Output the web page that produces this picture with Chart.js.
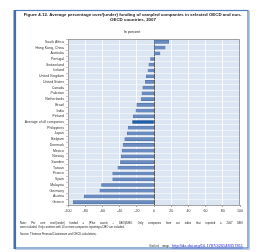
<!DOCTYPE html>
<html>
<head>
<meta charset="utf-8">
<script src="https://cdn.jsdelivr.net/npm/chart.js@4.4.1/dist/chart.umd.min.js"></script>
<style>
  html, body { margin:0; padding:0; background:#fff; }
  canvas { display:block; }
</style>
</head>
<body>
<canvas id="chart" width="256" height="252"></canvas>
<script>
// data (per cent over/(under) funded, 2007)
const categories = ['South Africa','Hong Kong, China','Australia','Portugal','Switzerland','Ireland',
  'United Kingdom','United States','Canada','Pakistan','Netherlands','Brazil','India','Finland',
  'Average of all companies','Philippines','Japan','Belgium','Denmark','Mexico','Norway','Sweden',
  'Taiwan','France','Spain','Malaysia','Germany','Austria','Greece'];
const overUnder = [17, 13, 7, -4, -6, -7, -9, -10, -13, -14, -15, -20, -21, -24,
  -25, -30, -31, -34, -36, -37, -38, -39, -42, -48, -48, -61, -63, -81, -94];
const xTicks = [-100, -80, -60, -40, -20, 0, 20, 40, 60, 80, 100];

const titleLines = ['Figure 4.12. Average percentage over/(under) funding of sampled companies in selected OECD and non-',
  'OECD countries, 2007'];
const unitText = 'In percent';
const noteLines = ['Note: Per cent over/(under) funded = (Plan assets \u2013 DBO)/DBO. Only companies from our index that reported a 2007 DBO',
  'were included. Only countries with 10 or more companies reporting a DBO are included.'];
const sourceText = 'Source: Thomson Financial Datastream and OECD calculations.';
const statLink = 'http://dx.doi.org/10.1787/426548357811';

const FONT = "'Liberation Sans', Arial, sans-serif";
const barColors = categories.map(c => c.startsWith('Average') ? '#1f5ea8' : '#6a8bc0');

// draws a line of text stretched to a given width (justified)
function justify(ctx, text, x, y, width){
  const words = text.split(' ');
  const w = words.reduce((s, t) => s + ctx.measureText(t).width, 0);
  const gap = (width - w) / (words.length - 1);
  let cx = x;
  words.forEach(t => { ctx.fillText(t, cx, y); cx += ctx.measureText(t).width + gap; });
}

const decor = {
  id: 'decor',
  beforeDraw(chart){
    const {ctx, chartArea:a} = chart;
    ctx.save();
    ctx.fillStyle = '#dce5f2';
    ctx.fillRect(a.left, a.top, a.right - a.left, a.bottom - a.top);
    ctx.restore();
  },
  afterDraw(chart){
    const {ctx, chartArea:a} = chart;
    ctx.save();
    // plot frame top/right
    ctx.strokeStyle = '#8c8c8c'; ctx.lineWidth = 0.8;
    ctx.beginPath();
    ctx.moveTo(a.left, a.top + 0.5); ctx.lineTo(a.right - 0.5, a.top + 0.5); ctx.lineTo(a.right - 0.5, a.bottom);
    ctx.stroke();

    // outer blue box
    ctx.strokeStyle = '#4f7fbf'; ctx.lineWidth = 1.2;
    ctx.strokeRect(15.5, 10.5, 232.5, 237.5);
    ctx.fillStyle = '#3d6fb3';
    ctx.fillRect(13.5, 10, 2.5, 239);
    ctx.strokeStyle = '#a9c0e0'; ctx.lineWidth = 0.8;
    ctx.beginPath(); ctx.moveTo(249.5, 11); ctx.lineTo(249.5, 249.5); ctx.lineTo(15, 249.5); ctx.stroke();

    ctx.fillStyle = '#1a1a1a';
    ctx.textBaseline = 'middle';
    ctx.textAlign = 'center';
    ctx.font = 'bold 4.4px ' + FONT;
    ctx.fillText(titleLines[0], 132.5, 15);
    ctx.fillText(titleLines[1], 133, 19.5);
    ctx.font = '3.7px ' + FONT;
    ctx.fillText(unitText, 132, 32);

    ctx.textAlign = 'left';
    ctx.font = '2.7px ' + FONT;
    justify(ctx, noteLines[0], 20, 223.3, 223);
    ctx.fillText(noteLines[1], 20, 227.3);
    ctx.fillText(sourceText, 20, 234);

    ctx.fillStyle = '#444';
    ctx.font = '2.8px ' + FONT;
    ctx.fillText('StatLink', 149, 246);
    ctx.font = 'bold 3px ' + FONT;
    ctx.fillText('msp', 162.5, 246);
    ctx.fillStyle = '#2a2ad0';
    ctx.font = '3px ' + FONT;
    const base = ctx.measureText(statLink).width;
    ctx.font = (3 * 71 / base).toFixed(2) + 'px ' + FONT;
    const lw = ctx.measureText(statLink).width;
    ctx.fillText(statLink, 172, 246);
    ctx.strokeStyle = '#2a2ad0'; ctx.lineWidth = 0.4;
    ctx.beginPath(); ctx.moveTo(172, 248); ctx.lineTo(172 + lw, 248); ctx.stroke();
    ctx.restore();
  }
};

new Chart(document.getElementById('chart'), {
  type: 'bar',
  data: {
    labels: categories,
    datasets: [{ data: overUnder, backgroundColor: barColors, borderColor: '#4d6d9f', borderWidth: 0.4,
      barThickness: 3, borderSkipped: false }]
  },
  options: {
    indexAxis: 'y',
    responsive: false,
    animation: false,
    events: [],
    layout: { padding: { top: 39, right: 16, bottom: 37, left: 0 } },
    plugins: { legend: { display: false }, tooltip: { enabled: false } },
    scales: {
      x: {
        min: xTicks[0], max: xTicks[xTicks.length - 1],
        afterBuildTicks: s => { s.ticks = xTicks.map(v => ({ value: v })); },
        afterFit: s => { s.height = 10; },
        grid: { color: c => c.tick && c.tick.value === 0 ? '#3a3a3a' : '#ffffff', lineWidth: 0.8,
          tickLength: 2, tickColor: '#8c8c8c' },
        border: { color: '#8c8c8c', width: 0.8 },
        ticks: { font: { size: 3.6, family: FONT }, color: '#333', padding: 2, maxRotation: 0, autoSkip: false }
      },
      y: {
        afterFit: s => { s.width = 68; },
        grid: { color: '#ffffff', lineWidth: 0.5, tickLength: 2, tickColor: '#8c8c8c' },
        border: { color: '#8c8c8c', width: 0.8 },
        ticks: { font: { size: 3.5, family: FONT }, color: '#333', padding: 2, autoSkip: false }
      }
    }
  },
  plugins: [decor]
});
</script>
</body>
</html>
